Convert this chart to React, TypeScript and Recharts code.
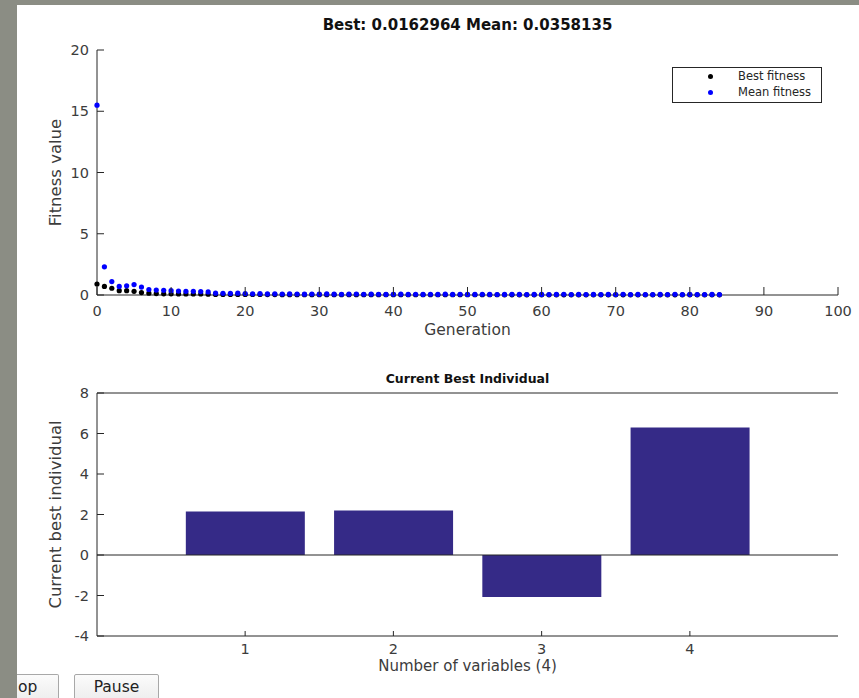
import React from 'react'
import {
  ScatterChart,
  Scatter,
  BarChart,
  Bar,
  XAxis,
  YAxis,
  Label,
  ReferenceLine,
} from 'recharts'

// best / mean fitness per generation (generation = index)
const bestFitness = [
  0.9, 0.7, 0.55, 0.35, 0.35, 0.3, 0.2, 0.15, 0.12, 0.1,
  0.1, 0.09, 0.09, 0.08, 0.08, 0.07, 0.05, 0.05, 0.05, 0.05,
  0.04, 0.04, 0.04, 0.035, 0.035, 0.03, 0.03, 0.03, 0.03, 0.028,
  0.028, 0.028, 0.026, 0.026, 0.025, 0.025, 0.025, 0.024, 0.024, 0.023,
  0.023, 0.022, 0.022, 0.022, 0.021, 0.021, 0.021, 0.02, 0.02, 0.02,
  0.02, 0.019, 0.019, 0.019, 0.019, 0.018, 0.018, 0.018, 0.018, 0.018,
  0.018, 0.017, 0.017, 0.017, 0.017, 0.017, 0.017, 0.017, 0.017, 0.017,
  0.017, 0.0165, 0.0165, 0.0165, 0.0165, 0.0165, 0.0165, 0.0165, 0.0165, 0.0165,
  0.0165, 0.0163, 0.0163, 0.0163, 0.0162964,
]
const meanFitness = [
  15.5, 2.3, 1.1, 0.7, 0.75, 0.85, 0.65, 0.45, 0.4, 0.38,
  0.35, 0.32, 0.3, 0.3, 0.28, 0.25, 0.15, 0.14, 0.13, 0.15,
  0.12, 0.1, 0.11, 0.09, 0.1, 0.08, 0.09, 0.08, 0.07, 0.08,
  0.07, 0.09, 0.07, 0.06, 0.07, 0.08, 0.06, 0.07, 0.06, 0.05,
  0.06, 0.07, 0.05, 0.06, 0.05, 0.06, 0.05, 0.07, 0.05, 0.06,
  0.05, 0.05, 0.06, 0.05, 0.04, 0.05, 0.06, 0.05, 0.04, 0.05,
  0.05, 0.04, 0.05, 0.06, 0.04, 0.05, 0.04, 0.05, 0.04, 0.05,
  0.04, 0.06, 0.04, 0.05, 0.04, 0.04, 0.05, 0.04, 0.06, 0.04,
  0.05, 0.04, 0.04, 0.05, 0.0358135,
]
const genTicks = [0, 10, 20, 30, 40, 50, 60, 70, 80, 90, 100]
const fitTicks = [0, 5, 10, 15, 20]

const variables = ['1', '2', '3', '4']
const bestIndividual = [2.15, 2.2, -2.07, 6.3]
const indTicks = [-4, -2, 0, 2, 4, 6, 8]

const AXIS = '#262626'
const TEXT = '#3c3c3c'
const FONT = "'DejaVu Sans', sans-serif"

const bestData = bestFitness.map((v, i) => ({ gen: i, value: v }))
const meanData = meanFitness.map((v, i) => ({ gen: i, value: v }))
const barData = variables.map((name, i) => ({ name, value: bestIndividual[i] }))

const LeftTick = (props: any) => {
  const { x, y, payload } = props
  const ax = x + 8
  return (
    <g>
      <line x1={ax} x2={ax + 7} y1={y} y2={y} stroke={AXIS} />
      <text x={x} y={y} dy="0.36em" textAnchor="end" fontFamily={FONT} fontSize={14.5} fill={TEXT}>
        {payload.value}
      </text>
    </g>
  )
}

const BottomTick = (props: any) => {
  const { x, y, payload, len, gap } = props
  const ay = y - gap
  return (
    <g>
      <line x1={x} x2={x} y1={ay} y2={ay - len} stroke={AXIS} />
      <text x={x} y={y} textAnchor="middle" fontFamily={FONT} fontSize={14.5} fill={TEXT}>
        {payload.value}
      </text>
    </g>
  )
}

const dot = (color: string) => (p: any) => <circle cx={p.cx} cy={p.cy} r={2.6} fill={color} />

function FitnessPlot() {
  return (
    <ScatterChart width={859} height={350} margin={{ top: 50, right: 21, bottom: 10, left: 13 }}>
      <XAxis
        type="number"
        dataKey="gen"
        domain={[0, 100]}
        ticks={genTicks}
        interval={0}
        height={45}
        tickSize={0}
        tickMargin={21}
        tickLine={false}
        axisLine={{ stroke: AXIS }}
        tick={<BottomTick len={8} gap={21} />}
      >
        <Label value="Generation" position="insideBottom" offset={5} fontFamily={FONT} fontSize={15.5} fill={TEXT} />
      </XAxis>
      <YAxis
        type="number"
        dataKey="value"
        domain={[0, 20]}
        ticks={fitTicks}
        interval={0}
        width={84}
        tickSize={0}
        tickMargin={8}
        tickLine={false}
        axisLine={{ stroke: AXIS }}
        tick={<LeftTick />}
      >
        <Label value="Fitness value" position="center" angle={-90} fontFamily={FONT} fontSize={16.5} fill={TEXT} />
      </YAxis>
      <Scatter name="Best fitness" data={bestData} fill="#000" shape={dot('#000000')} isAnimationActive={false} />
      <Scatter name="Mean fitness" data={meanData} fill="#00f" shape={dot('#0000ff')} isAnimationActive={false} />
    </ScatterChart>
  )
}

function IndividualPlot() {
  return (
    <BarChart
      width={859}
      height={348}
      data={barData}
      margin={{ top: 43, right: 21, bottom: 17, left: 13 }}
      barCategoryGap="10%"
    >
      <XAxis
        dataKey="name"
        padding={{ left: 74, right: 74 }}
        height={45}
        tickSize={0}
        tickMargin={18}
        tickLine={false}
        axisLine={{ stroke: AXIS }}
        tick={<BottomTick len={5} gap={18} />}
      >
        <Label value="Number of variables (4)" position="insideBottom" offset={10} fontFamily={FONT} fontSize={15} fill={TEXT} />
      </XAxis>
      <YAxis
        type="number"
        domain={[-4, 8]}
        ticks={indTicks}
        interval={0}
        width={84}
        tickSize={0}
        tickMargin={8}
        tickLine={false}
        axisLine={{ stroke: AXIS }}
        tick={<LeftTick />}
      >
        <Label value="Current best individual" position="center" angle={-90} fontFamily={FONT} fontSize={16.5} fill={TEXT} />
      </YAxis>
      <YAxis
        yAxisId="right"
        orientation="right"
        type="number"
        domain={[-4, 8]}
        width={0}
        tick={false}
        tickLine={false}
        axisLine={{ stroke: AXIS }}
      />
      <ReferenceLine y={8} stroke={AXIS} />
      <ReferenceLine y={0} stroke={AXIS} />
      <Bar dataKey="value" fill="#352a87" isAnimationActive={false} />
    </BarChart>
  )
}

const buttonStyle: React.CSSProperties = {
  position: 'absolute',
  top: 674,
  height: 30,
  background: 'linear-gradient(#fbfbfb, #ececec)',
  border: '1px solid #a8a8a8',
  borderRadius: 2,
  fontFamily: FONT,
  fontSize: 15.5,
  color: '#222',
  lineHeight: '24px',
  boxSizing: 'border-box',
}

export default function App() {
  return (
    <div style={{ position: 'fixed', left: 0, top: 0, width: 859, height: 698, background: '#8b8d84', overflow: 'hidden' }}>
      <div style={{ position: 'absolute', left: 17, top: 5, width: 860, height: 700, background: '#fff' }} />
      <div style={{ position: 'absolute', left: 0, top: 0 }}>
        <FitnessPlot />
      </div>
      <div style={{ position: 'absolute', left: 0, top: 350 }}>
        <IndividualPlot />
      </div>
      <div
        style={{
          position: 'absolute', left: 97, width: 741, top: 17, textAlign: 'center',
          fontFamily: FONT, fontWeight: 'bold', fontSize: 15, lineHeight: '16px', color: '#111',
        }}
      >
        Best: 0.0162964 Mean: 0.0358135
      </div>
      <div
        style={{
          position: 'absolute', left: 97, width: 741, top: 372, textAlign: 'center',
          fontFamily: FONT, fontWeight: 'bold', fontSize: 12.5, lineHeight: '14px', color: '#111',
        }}
      >
        Current Best Individual
      </div>
      <div
        style={{
          position: 'absolute', left: 672, top: 67, width: 150, height: 36, boxSizing: 'border-box',
          border: `1px solid ${AXIS}`, background: '#fff', fontFamily: FONT, fontSize: 11.5, color: '#262626',
        }}
      >
        {[
          { name: 'Best fitness', color: '#000' },
          { name: 'Mean fitness', color: '#00f' },
        ].map((e, i) => (
          <div key={e.name} style={{ position: 'absolute', left: 0, top: 1 + i * 16, height: 15, lineHeight: '15px', width: '100%' }}>
            <span style={{ position: 'absolute', left: 35, top: 5, width: 5, height: 5, borderRadius: 3, background: e.color }} />
            <span style={{ position: 'absolute', left: 65 }}>{e.name}</span>
          </div>
        ))}
      </div>
      <div style={{ ...buttonStyle, left: 17, width: 42, borderLeft: 'none', borderRadius: '0 2px 2px 0', paddingLeft: 1 }}>op</div>
      <div style={{ ...buttonStyle, left: 74, width: 85, textAlign: 'center' }}>Pause</div>
    </div>
  )
}
